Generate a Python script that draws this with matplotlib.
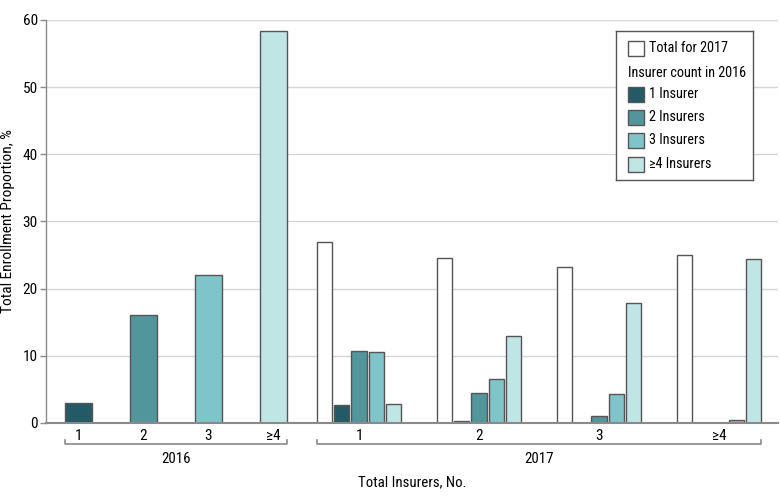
import numpy as np
import matplotlib
matplotlib.use("Agg")
import matplotlib.pyplot as plt
from matplotlib import font_manager
from matplotlib.patches import Rectangle
from matplotlib.transforms import blended_transform_factory

# narrow sans if one is installed
installed = {f.name for f in font_manager.fontManager.ttflist}
main_font = "DejaVu Sans"
for name in ["Liberation Sans Narrow", "DejaVu Sans Condensed", "Roboto Condensed", "Roboto", "Lato"]:
    if name in installed:
        main_font = name
        break
plt.rcParams['font.family'] = [main_font, 'DejaVu Sans']

# data
count_labels = ["1", "2", "3", "\u22654"]
enroll_2016 = [3.0, 16.1, 22.0, 58.4]
total_2017 = [27.0, 24.6, 23.2, 25.0]
# 2017 enrollment by 2016 insurer count (rows: 2017 count, cols: 2016 count)
by_2016 = [
    [2.7, 10.7, 10.5, 2.9],
    [0.35, 4.4, 6.6, 13.0],
    [0.0, 1.1, 4.3, 17.9],
    [0.0, 0.0, 0.5, 24.4],
]
legend_labels = ["1 Insurer", "2 Insurers", "3 Insurers", "\u22654 Insurers"]
colors = ["#245a66", "#52959b", "#7fc4c8", "#c0e5e5"]
edge = "#555555"
ylabel = "Total Enrollment Proportion, %"
xlabel = "Total Insurers, No."

fig = plt.figure(figsize=(7.8, 4.99), dpi=100)
r = fig.canvas.get_renderer()


def fit_size(s, px):
    # font size giving a string the pixel width measured in the reference
    t = fig.text(0, 0, s, fontsize=10)
    w = t.get_window_extent(r).width
    t.remove()
    return 10 * px / w


fs = fit_size("Insurer count in 2016", 118)
fs_tick = fit_size("40", 15)
fs_year = fit_size("2016", 29)
fs_y = fit_size(ylabel, 184)
fs_x = fit_size(xlabel, 108)

ax = fig.add_axes([46 / 780, 1 - 423 / 499, 732 / 780, 403 / 499])

# layout (units: spacing of the 2016 bars)
x16 = np.arange(4) * 1.0
x17 = 4.315 + np.arange(4) * 1.846
slot = 0.265
w16, w17 = 0.42, 0.232

for i in range(4):
    ax.bar(x16[i], enroll_2016[i], width=w16, color=colors[i], edgecolor=edge, linewidth=1, zorder=3)

for g in range(4):
    ax.bar(x17[g] - 2 * slot, total_2017[g], width=w17, color="white", edgecolor=edge, linewidth=1, zorder=3)
    for j in range(4):
        v = by_2016[g][j]
        if v > 0:
            ax.bar(x17[g] + (j - 1) * slot, v, width=w17, color=colors[j], edgecolor=edge, linewidth=1, zorder=3)

ax.set_xlim(-0.5, 10.76)
ax.set_ylim(0, 60)
ax.set_yticks(range(0, 61, 10))
ax.yaxis.grid(True, color="#d6d6d6", linewidth=1, zorder=0)
for s in ["top", "right"]:
    ax.spines[s].set_visible(False)
ax.spines["left"].set_color("#8a8a8a")
ax.spines["left"].set_linewidth(1)
ax.spines["bottom"].set_color("#8a8a8a")
ax.spines["bottom"].set_linewidth(1.5)
ax.spines["bottom"].set_zorder(4)
ax.tick_params(axis="y", length=4, width=1, color="#8a8a8a", pad=2, labelsize=fs_tick)
ax.set_xticks(list(x16) + list(x17))
ax.set_xticklabels(count_labels + count_labels)
ax.tick_params(axis="x", length=0, pad=4, labelsize=fs_tick)
ax.set_ylabel(ylabel, fontsize=fs_y)
ax.yaxis.set_label_coords(-0.042, 0.5)

# year brackets
tr = blended_transform_factory(ax.transData, ax.transAxes)
for lo, hi, year in [(x16[0] - w16 / 2, x16[-1] + w16 / 2, "2016"),
                     (x17[0] - 2 * slot - w17 / 2, x17[-1] + 2 * slot + w17 / 2, "2017")]:
    ax.plot([lo, lo, hi, hi], [-0.042, -0.053, -0.053, -0.042], color="#8a8a8a",
            linewidth=1.2, transform=tr, clip_on=False)
    ax.text((lo + hi) / 2, -0.089, year, transform=tr, ha="center", va="center", fontsize=fs_year)

ax.text(0.5, -0.146, xlabel, transform=ax.transAxes, ha="center", va="center", fontsize=fs_x)

# legend box drawn by hand so the heading sits flush left
lg = fig.add_axes([616 / 780, 1 - 180 / 499, 137 / 780, 149 / 499])
lg.set_xlim(0, 137)
lg.set_ylim(149, 0)
lg.set_xticks([])
lg.set_yticks([])
for s in lg.spines.values():
    s.set_color("#555555")
    s.set_linewidth(1)
rows = [17, 42, 63, 86, 109, 133]
lg.add_patch(Rectangle((12, rows[0] - 7.5), 16, 15, facecolor="white", edgecolor=edge, linewidth=1))
lg.text(33, rows[0], "Total for 2017", va="center", fontsize=fs)
lg.text(12, rows[1], "Insurer count in 2016", va="center", fontsize=fs)
for k in range(4):
    lg.add_patch(Rectangle((12, rows[k + 2] - 7.5), 16, 15, facecolor=colors[k], edgecolor=edge, linewidth=1))
    lg.text(33, rows[k + 2], legend_labels[k], va="center", fontsize=fs)

fig.savefig("out.png", dpi=100)
